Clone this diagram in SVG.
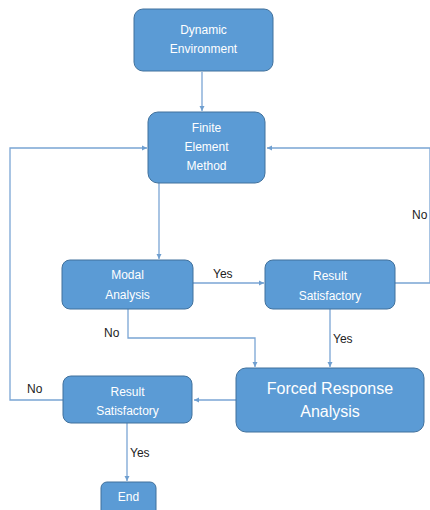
<svg xmlns="http://www.w3.org/2000/svg" width="430" height="510" viewBox="0 0 430 510">
<defs>
<marker id="ah" markerWidth="6" markerHeight="6" refX="5" refY="3" orient="auto" markerUnits="userSpaceOnUse">
<path d="M0,0.5 L5,3 L0,5.5 z" fill="#6f9fd0"/>
</marker>
<style>
.box{fill:#5b9bd5;stroke:#41719c;stroke-width:1}
.t{font-family:"Liberation Sans",Arial,sans-serif;font-size:12px;fill:#ffffff;text-anchor:middle}
.tb{font-family:"Liberation Sans",Arial,sans-serif;font-size:16px;fill:#ffffff;text-anchor:middle}
.lbl{font-family:"Liberation Sans",Arial,sans-serif;font-size:12px;fill:#222222}
.c{fill:none;stroke:#7aa5d4;stroke-width:1.3}
</style>
</defs>
<rect width="430" height="510" fill="#ffffff"/>
<g id="connectors">
<path class="c" d="M202,72 L202,111" marker-end="url(#ah)"/>
<path class="c" d="M159,183 L159,259" marker-end="url(#ah)"/>
<path class="c" d="M193,283 L264,283" marker-end="url(#ah)"/>
<path class="c" d="M395,283 L430,283 L430,148 L267,148" marker-end="url(#ah)"/>
<path class="c" d="M128,309 L128,338 L255,338 L255,367" marker-end="url(#ah)"/>
<path class="c" d="M330,309 L330,367" marker-end="url(#ah)"/>
<path class="c" d="M236,400 L194,400" marker-end="url(#ah)"/>
<path class="c" d="M63,400 L10,400 L10,148 L147,148" marker-end="url(#ah)"/>
<path class="c" d="M127,423 L127,481" marker-end="url(#ah)"/>
<text class="lbl" x="213" y="278">Yes</text>
<text class="lbl" x="412" y="219">No</text>
<text class="lbl" x="104" y="337">No</text>
<text class="lbl" x="333" y="343">Yes</text>
<text class="lbl" x="27" y="393">No</text>
<text class="lbl" x="130" y="457">Yes</text>
</g>
<g id="dynamic">
<rect class="box" x="134" y="9" width="139" height="62" rx="9"/>
<text class="t" x="203.5" y="34">Dynamic</text>
<text class="t" x="203.5" y="53">Environment</text>
</g>
<g id="fem">
<rect class="box" x="148" y="112" width="117" height="71" rx="10"/>
<text class="t" x="206.5" y="132">Finite</text>
<text class="t" x="206.5" y="151">Element</text>
<text class="t" x="206.5" y="170">Method</text>
</g>
<g id="modal">
<rect class="box" x="62" y="260" width="131" height="49" rx="8"/>
<text class="t" x="127.5" y="279">Modal</text>
<text class="t" x="127.5" y="299">Analysis</text>
</g>
<g id="result1">
<rect class="box" x="265" y="260" width="130" height="49" rx="8"/>
<text class="t" x="330" y="280">Result</text>
<text class="t" x="330" y="300">Satisfactory</text>
</g>
<g id="forced">
<rect class="box" x="236" y="368" width="188" height="64" rx="10"/>
<text class="tb" x="330" y="394">Forced Response</text>
<text class="tb" x="330" y="417">Analysis</text>
</g>
<g id="result2">
<rect class="box" x="63" y="376" width="129" height="47" rx="8"/>
<text class="t" x="127.5" y="396">Result</text>
<text class="t" x="127.5" y="415">Satisfactory</text>
</g>
<g id="end">
<rect class="box" x="101" y="482" width="55" height="40" rx="6"/>
<text class="t" x="128.5" y="501">End</text>
</g>
</svg>
